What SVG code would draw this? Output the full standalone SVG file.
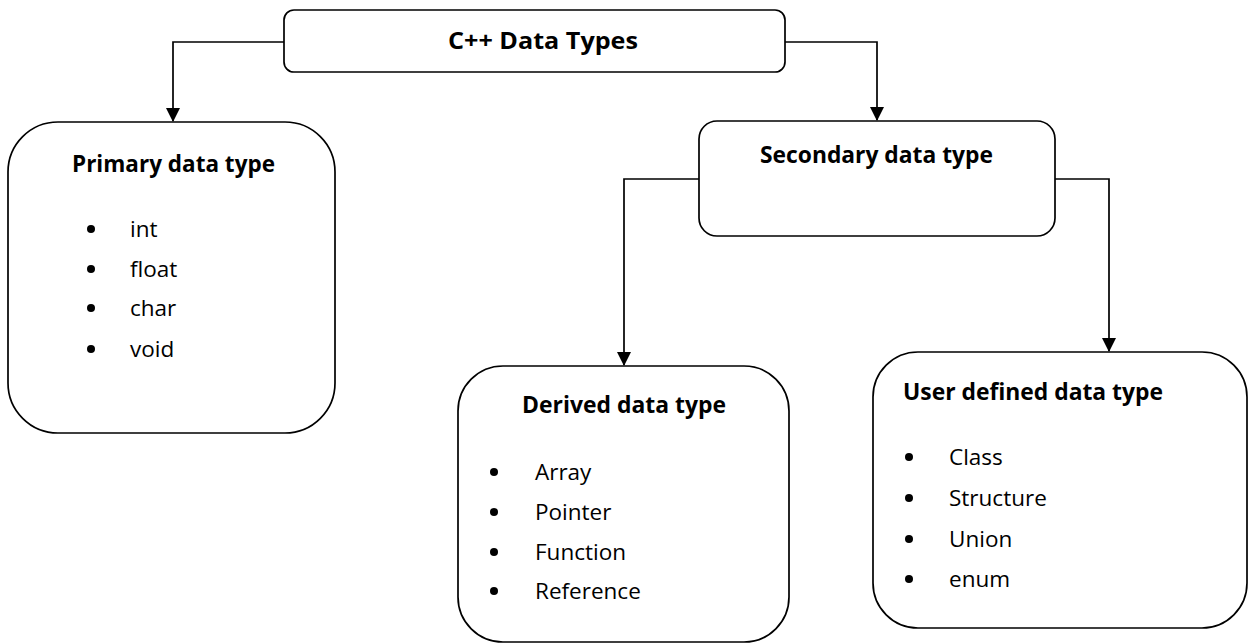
<svg xmlns="http://www.w3.org/2000/svg" width="1251" height="644" viewBox="0 0 1251 644">
<defs>
<style>
.box{fill:#fff;stroke:#000;stroke-width:1.7}
.conn{fill:none;stroke:#000;stroke-width:1.7}
.title{font-family:"Open Sans","Noto Sans",sans-serif;font-weight:bold;font-size:23px;fill:#000}
.item{font-family:"Open Sans","Noto Sans",sans-serif;font-size:22.5px;fill:#000}
.dot{fill:#000}
</style>
<marker id="arr" markerUnits="userSpaceOnUse" markerWidth="14" markerHeight="14" viewBox="0 0 14 14" refX="13" refY="7" orient="auto">
<path d="M0,0 L14,7 L0,14 Z" fill="#000"/>
</marker>
</defs>
<rect width="1251" height="644" fill="#fff"/>
<g id="connectors">
<path class="conn" d="M284,42 H173 V121" marker-end="url(#arr)"/>
<path class="conn" d="M785,42 H877 V120" marker-end="url(#arr)"/>
<path class="conn" d="M699,179 H624 V365" marker-end="url(#arr)"/>
<path class="conn" d="M1055,179 H1109 V351" marker-end="url(#arr)"/>
</g>
<g id="root">
<rect class="box" x="284" y="10" width="501" height="62" rx="10"/>
<text class="title" x="448" y="49" textLength="190" lengthAdjust="spacingAndGlyphs">C++ Data Types</text>
</g>
<g id="primary">
<rect class="box" x="8" y="122" width="327" height="311" rx="50"/>
<text class="title" x="72" y="172" textLength="203" lengthAdjust="spacingAndGlyphs">Primary data type</text>
<circle class="dot" cx="91" cy="229" r="4"/><text class="item" x="130" y="237">int</text>
<circle class="dot" cx="91" cy="269" r="4"/><text class="item" x="130" y="277">float</text>
<circle class="dot" cx="91" cy="308" r="4"/><text class="item" x="130" y="316">char</text>
<circle class="dot" cx="91" cy="349" r="4"/><text class="item" x="130" y="357">void</text>
</g>
<g id="secondary">
<rect class="box" x="699" y="121" width="356" height="115" rx="18"/>
<text class="title" x="760" y="163" textLength="233" lengthAdjust="spacingAndGlyphs">Secondary data type</text>
</g>
<g id="derived">
<rect class="box" x="458" y="366" width="331" height="276" rx="45"/>
<text class="title" x="522" y="413" textLength="204" lengthAdjust="spacingAndGlyphs">Derived data type</text>
<circle class="dot" cx="494" cy="472" r="4"/><text class="item" x="535" y="480">Array</text>
<circle class="dot" cx="494" cy="512" r="4"/><text class="item" x="535" y="520">Pointer</text>
<circle class="dot" cx="494" cy="552" r="4"/><text class="item" x="535" y="560">Function</text>
<circle class="dot" cx="494" cy="591" r="4"/><text class="item" x="535" y="599">Reference</text>
</g>
<g id="userdefined">
<rect class="box" x="873" y="352" width="374" height="276" rx="45"/>
<text class="title" x="903" y="400" textLength="260" lengthAdjust="spacingAndGlyphs">User defined data type</text>
<circle class="dot" cx="909" cy="457" r="4"/><text class="item" x="949" y="465">Class</text>
<circle class="dot" cx="909" cy="498" r="4"/><text class="item" x="949" y="506">Structure</text>
<circle class="dot" cx="909" cy="539" r="4"/><text class="item" x="949" y="547">Union</text>
<circle class="dot" cx="909" cy="579" r="4"/><text class="item" x="949" y="587">enum</text>
</g>
</svg>
